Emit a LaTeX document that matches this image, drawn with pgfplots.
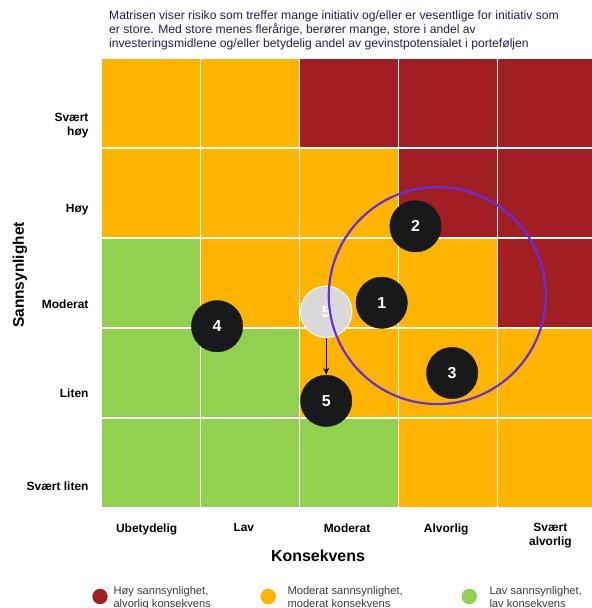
\documentclass[border=0pt]{standalone}
\usepackage{pgfplots}
\pgfplotsset{compat=1.18}
\usepackage{pgfplotstable}
\usepackage{fontspec}
\setmainfont{Liberation Sans}
\usetikzlibrary{arrows.meta}
\definecolor{cR}{RGB}{161,31,35}
\definecolor{cO}{RGB}{255,180,0}
\definecolor{cG}{RGB}{146,208,80}
\definecolor{bub}{RGB}{24,25,27}
\definecolor{grb}{RGB}{217,217,217}
\definecolor{purp}{RGB}{98,46,232}
\definecolor{navy}{RGB}{32,32,80}
\definecolor{legtxt}{RGB}{60,60,60}
\newcommand{\cell}[5]{\addplot[fill=#5, draw=white, line width=1.3bp] coordinates {(#1,#3) (#2,#3) (#2,#4) (#1,#4)} -- cycle;}
\pgfplotstableread{
x y label
2.83 2.28 1
3.17 3.13 2
3.54 1.50 3
1.17 2.02 4
2.27 1.19 5
}\bubbles
\pgfplotstableread{
x y label
2.27 2.18 5
}\ghost
\begin{document}
\begin{tikzpicture}
\useasboundingbox (0,0) rectangle (592bp,608bp);
\begin{axis}[
  at={(101bp,100bp)}, anchor=south west,
  scale only axis, width=496bp, height=450bp,
  xmin=0, xmax=5, ymin=0, ymax=5,
  clip=false,
  axis line style={draw=none}, tick style={draw=none},
  xtick={0.46,1.44,2.48,3.48,4.53},
  xticklabels={Ubetydelig,Lav,Moderat,Alvorlig,{Svært\\alvorlig}},
  ytick={0.244,1.278,2.267,3.32,4.244},
  yticklabels={Svært liten,Liten,Moderat,Høy,{Svært\\høy}},
  xticklabel style={align=center, anchor=north, yshift=-12bp, font=\bfseries\fontsize{12}{14}\selectfont},
  yticklabel style={align=right, anchor=east, xshift=-9bp, font=\bfseries\fontsize{12}{14}\selectfont},
]
% row y=4
\cell{0}{1}{4}{5}{cO}\cell{1}{2}{4}{5}{cO}\cell{2}{3}{4}{5}{cR}\cell{3}{4}{4}{5}{cR}\cell{4}{5}{4}{5}{cR}
% row y=3
\cell{0}{1}{3}{4}{cO}\cell{1}{2}{3}{4}{cO}\cell{2}{3}{3}{4}{cO}\cell{3}{4}{3}{4}{cR}\cell{4}{5}{3}{4}{cR}
% row y=2
\cell{0}{1}{2}{3}{cG}\cell{1}{2}{2}{3}{cO}\cell{2}{3}{2}{3}{cO}\cell{3}{4}{2}{3}{cO}\cell{4}{5}{2}{3}{cR}
% row y=1
\cell{0}{1}{1}{2}{cG}\cell{1}{2}{1}{2}{cG}\cell{2}{3}{1}{2}{cO}\cell{3}{4}{1}{2}{cO}\cell{4}{5}{1}{2}{cO}
% row y=0
\cell{0}{1}{0}{1}{cG}\cell{1}{2}{0}{1}{cG}\cell{2}{3}{0}{1}{cG}\cell{3}{4}{0}{1}{cO}\cell{4}{5}{0}{1}{cO}
% ghost bubble
\addplot[only marks, mark=*, mark size=25.7bp, mark options={fill=grb, draw=white, line width=1bp},
  nodes near coords, point meta=explicit symbolic,
  nodes near coords style={anchor=center, text=white, font=\bfseries\fontsize{16}{16}\selectfont}]
  table[meta=label] {\ghost};
% arrow
\addplot[-{Stealth[length=7bp,width=6bp]}, line width=1.2bp, black] coordinates {(2.27,1.89) (2.27,1.48)};
% bubbles
\addplot[only marks, mark=*, mark size=25.7bp, mark options={fill=bub, draw=bub},
  nodes near coords, point meta=explicit symbolic,
  nodes near coords style={anchor=center, text=white, font=\bfseries\fontsize{16}{16}\selectfont}]
  table[meta=label] {\bubbles};
% purple ring
\addplot[only marks, mark=o, mark size=108.5bp, mark options={draw=purp, line width=2.2bp}] coordinates {(3.39,2.36)};
\end{axis}
% title
\begin{scope}[every node/.style={anchor=base west, inner sep=0, text=navy, font=\fontsize{12.2}{14}\selectfont}]
\node at (109bp,588bp) {Matrisen viser risiko som treffer mange initiativ og/eller er vesentlige for initiativ som};
\node at (109bp,574bp) {er store. Med store menes flerårige, berører mange, store i andel av};
\node at (109bp,560.5bp) {investeringsmidlene og/eller betydelig andel av gevinstpotensialet i porteføljen};
\end{scope}
% axis titles
\node[font=\bfseries\fontsize{16}{18}\selectfont] at (318bp,52bp) {Konsekvens};
\node[font=\bfseries\fontsize{15.5}{17}\selectfont, rotate=90] at (20bp,333bp) {Sannsynlighet};
% legend
\fill[cR] (100bp,11.5bp) circle (7.7bp);
\fill[cO] (268.3bp,11.5bp) circle (7.7bp);
\fill[cG] (469.3bp,11.5bp) circle (7.7bp);
\begin{scope}[every node/.style={anchor=base west, inner sep=0, text=legtxt, font=\fontsize{11.2}{13}\selectfont}]
\node at (113.3bp,14bp) {Høy sannsynlighet,};
\node at (113.3bp,1bp) {alvorlig konsekvens};
\node at (287.3bp,14bp) {Moderat sannsynlighet,};
\node at (287.3bp,1bp) {moderat konsekvens};
\node at (489.3bp,14bp) {Lav sannsynlighet,};
\node at (489.3bp,1bp) {lav konsekvens};
\end{scope}
\end{tikzpicture}
\end{document}
